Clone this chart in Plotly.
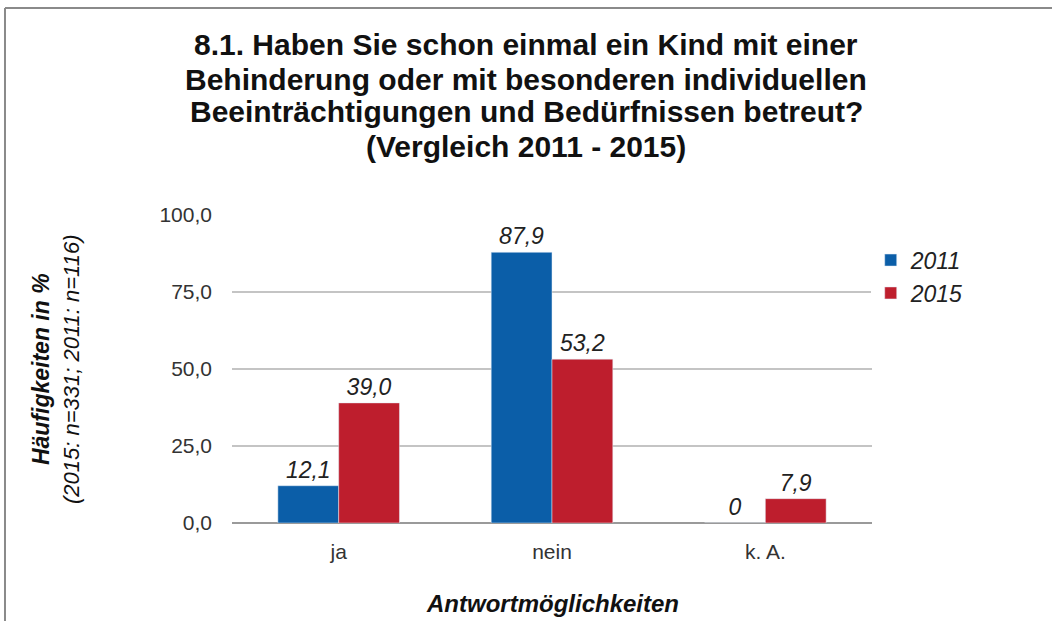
import plotly.graph_objects as go

categories = ["ja", "nein", "k. A."]
years = ["2011", "2015"]
values_2011 = [12.1, 87.9, 0]
values_2015 = [39.0, 53.2, 7.9]
labels_2011 = ["12,1", "87,9", "0"]
labels_2015 = ["39,0", "53,2", "7,9"]
tick_vals = [0, 25, 50, 75, 100]
tick_text = ["0,0", "25,0", "50,0", "75,0", "100,0"]
title_lines = ["8.1. Haben Sie schon einmal ein Kind mit einer",
               "Behinderung oder mit besonderen individuellen",
               "Beeinträchtigungen und Bedürfnissen betreut?",
               "(Vergleich 2011 - 2015)"]

colors = ["#0b5ea8", "#be1e2d"]
font = "Liberation Sans, Arial, sans-serif"

fig = go.Figure()
for year, vals, labs, col in zip(years, [values_2011, values_2015],
                                 [labels_2011, labels_2015], colors):
    fig.add_trace(go.Bar(x=categories, y=vals, name=year, marker_color=col,
                         text=labs, textposition="outside", cliponaxis=False,
                         textfont=dict(size=23, color="#222222", family=font,
                                       style="italic")))

fig.update_layout(
    width=1052, height=621,
    margin=dict(l=232, r=180, t=215, b=98),
    paper_bgcolor="white", plot_bgcolor="white",
    barmode="group", bargap=0.43, bargroupgap=0,
    font=dict(family=font, color="#222222"),
    legend=dict(x=0.998, y=0.8, xanchor="left", yanchor="middle",
                font=dict(size=23, style="italic", color="#222222")),
    showlegend=True,
)
fig.update_yaxes(range=[0, 100], tickvals=tick_vals, ticktext=tick_text,
                 showgrid=True, gridcolor="#c4c4c4", gridwidth=1.5,
                 zeroline=True, zerolinecolor="#9a9a9a", zerolinewidth=2,
                 ticklabelstandoff=19, tickfont=dict(size=21, color="#333333"))
fig.update_xaxes(showline=False, tickfont=dict(size=21, color="#333333"),
                 ticklabelstandoff=14)

# title, one annotation per line (tight line spacing as in the original)
for line, yc in zip(title_lines, [44, 79, 112, 146]):
    fig.add_annotation(text="<b>" + line + "</b>", xref="paper", yref="paper",
                       x=(526 - 232) / 640, y=(523 - yc) / 308,
                       xanchor="center", yanchor="middle", showarrow=False,
                       font=dict(size=30, color="#111111"))

fig.add_annotation(text="<b><i>Häufigkeiten in %</i></b><br>"
                        "<i><span style='font-size:22px'>(2015: n=331; 2011: n=116)</span></i>",
                   xref="paper", yref="paper", x=-0.275, y=0.5, textangle=-90,
                   xanchor="center", yanchor="middle",
                   showarrow=False, font=dict(size=23, color="#111111"))
fig.add_annotation(text="<b><i>Antwortmöglichkeiten</i></b>",
                   xref="paper", yref="paper", x=0.5, y=-0.26,
                   xanchor="center", yanchor="middle",
                   showarrow=False, font=dict(size=24, color="#111111"))

# frame of the original picture (left and top edge)
fig.add_shape(type="line", xref="paper", yref="paper",
              x0=-0.3547, x1=-0.3547, y0=-0.32, y1=1.672,
              line=dict(color="#8a8a8a", width=2))
fig.add_shape(type="line", xref="paper", yref="paper",
              x0=-0.3547, x1=1.29, y0=1.672, y1=1.672,
              line=dict(color="#8a8a8a", width=2))

fig.write_html("out.html", config={"displayModeBar": False},
               post_script="document.body.style.margin='0';")
